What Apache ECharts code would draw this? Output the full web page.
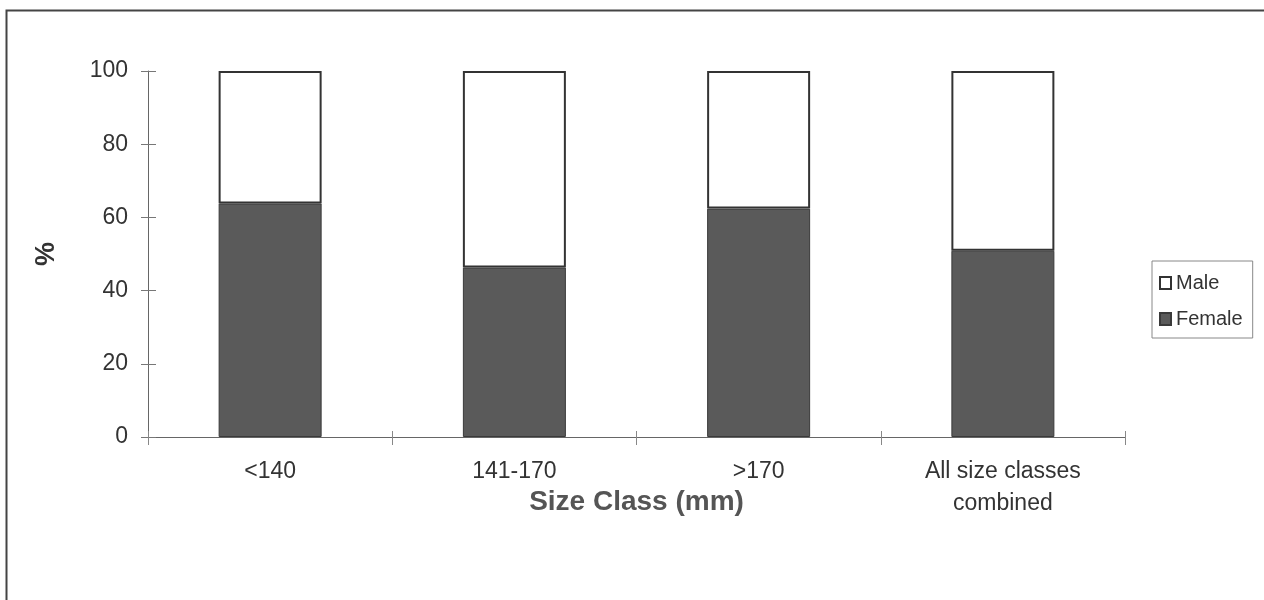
<!DOCTYPE html>
<html>
<head>
<meta charset="utf-8">
<script src="https://cdn.jsdelivr.net/npm/echarts@6/dist/echarts.min.js"></script>
<style>
html,body{margin:0;padding:0;background:#fff;}
#chart{width:1264px;height:600px;}
</style>
</head>
<body>
<div id="chart"></div>
<script>
const categories = ['<140', '141-170', '>170', 'All size classes\ncombined'];
const femaleValues = [63.8, 46.3, 62.4, 50.9];
const maleValues = [36.2, 53.7, 37.6, 49.1];
const yTicks = [0, 20, 40, 60, 80, 100];

const FONT = '"Liberation Sans", Arial, sans-serif';
const chart = echarts.init(document.getElementById('chart'), null, {renderer: 'canvas'});

const option = {
  backgroundColor: '#ffffff',
  animation: false,
  graphic: [{
    type: 'rect',
    shape: {x: 6.5, y: 10.5, width: 1300, height: 620},
    style: {fill: 'none', stroke: '#444', lineWidth: 2},
    silent: true
  }],
  grid: {left: 148, right: 139, top: 71, bottom: 163},
  legend: {
    data: ['Male', 'Female'],
    orient: 'vertical',
    left: 1152,
    top: 261,
    padding: [12, 10, 9, 7],
    itemGap: 16,
    itemWidth: 11,
    itemHeight: 12,
    icon: 'rect',
    borderColor: '#888',
    borderWidth: 1,
    textStyle: {fontFamily: FONT, fontSize: 20, color: '#333', lineHeight: 20}
  },
  xAxis: [{
    type: 'category',
    data: categories,
    name: 'Size Class (mm)',
    nameLocation: 'middle',
    nameGap: 51,
    nameMoveOverlap: false,
    nameTextStyle: {fontFamily: FONT, fontSize: 28, fontWeight: 'bold', color: '#555'},
    axisLine: {lineStyle: {color: '#666', width: 1}},
    axisTick: {show: true, length: 8, lineStyle: {color: '#888'}},
    axisLabel: {fontFamily: FONT, fontSize: 23, color: '#333', margin: 19, lineHeight: 32, interval: 0}
  }, {
    type: 'category',
    data: categories,
    position: 'bottom',
    axisLine: {show: false},
    axisTick: {show: true, inside: true, length: 6, lineStyle: {color: '#888'}},
    axisLabel: {show: false}
  }],
  yAxis: [{
    type: 'value',
    min: 0,
    max: 100,
    interval: 20,
    name: '%',
    nameLocation: 'middle',
    nameRotate: 90,
    nameGap: 88,
    nameMoveOverlap: false,
    nameTextStyle: {fontFamily: FONT, fontSize: 27, fontWeight: 'bold', color: '#333'},
    splitLine: {show: false},
    axisLine: {show: true, lineStyle: {color: '#666', width: 1}},
    axisTick: {show: true, length: 7, lineStyle: {color: '#777'}},
    axisLabel: {
      fontFamily: FONT, fontSize: 23, color: '#333', margin: 20,
      formatter: function (v) { return yTicks.indexOf(v) >= 0 ? String(v) : ''; }
    }
  }, {
    type: 'value',
    min: 0,
    max: 100,
    interval: 20,
    position: 'left',
    splitLine: {show: false},
    axisLine: {show: false},
    axisTick: {show: true, inside: true, length: 8, lineStyle: {color: '#777'}},
    axisLabel: {show: false}
  }],
  series: [{
    name: 'Female',
    type: 'bar',
    stack: 'total',
    data: femaleValues,
    barWidth: 103,
    itemStyle: {color: '#5a5a5a', borderColor: '#3a3a3a', borderWidth: 1}
  }, {
    name: 'Male',
    type: 'bar',
    stack: 'total',
    data: maleValues,
    barWidth: 103,
    itemStyle: {color: '#ffffff', borderColor: '#333333', borderWidth: 2}
  }]
};
chart.setOption(option);
</script>
</body>
</html>
